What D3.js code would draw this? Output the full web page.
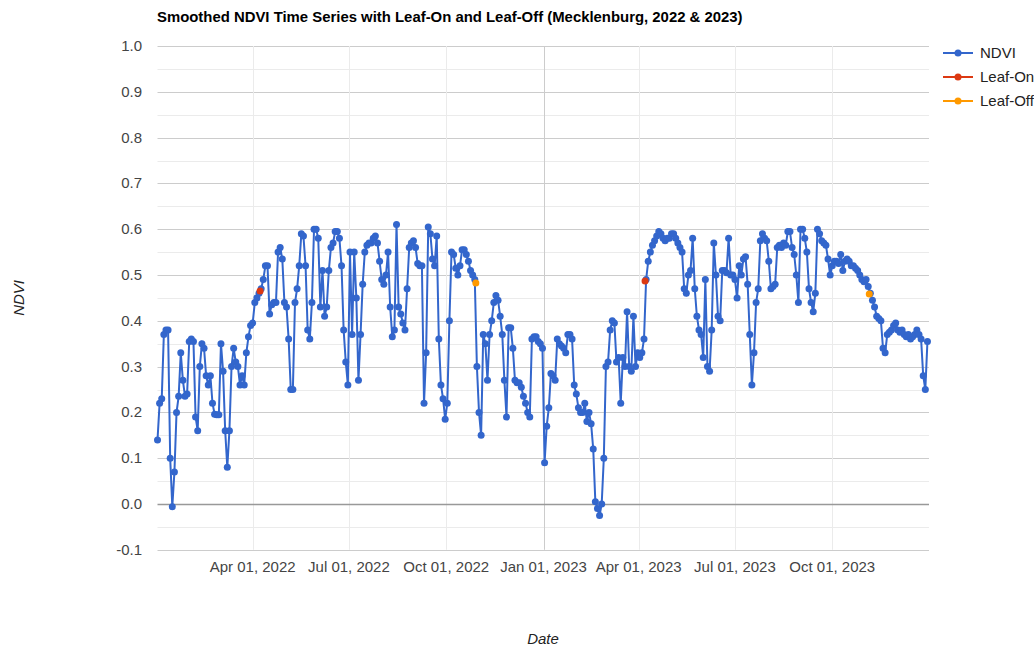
<!DOCTYPE html>
<html lang="en">
<head>
  <meta charset="UTF-8">
  <title>Smoothed NDVI Time Series</title>
  <script src="https://d3js.org/d3.v7.min.js"></script>
  <style>
    body { margin: 0; background: #fff; }
    svg text { font-family: Arial, "Liberation Sans", sans-serif; }
    .tick-label { font-size: 15px; fill: #444; }
    .axis-title { font-size: 15px; font-style: italic; fill: #222; }
    .legend-label { font-size: 15px; fill: #222; }
  </style>
</head>
<body>
  <div id="chart"></div>

  <script>
    // NDVI values, one every 2 days
    const stepDays = 2;
    const start2022 = "2022-01-01";
    const ndvi2022 = [
      0.14, 0.22, 0.23, 0.37, 0.38, 0.38, 0.10, -0.006, 0.07, 0.20,
      0.235, 0.33, 0.27, 0.235, 0.24, 0.355, 0.36, 0.355, 0.19, 0.16,
      0.30, 0.35, 0.34, 0.28, 0.26, 0.28, 0.22, 0.196, 0.195, 0.195,
      0.35, 0.29, 0.16, 0.08, 0.16, 0.30, 0.34, 0.31, 0.30, 0.26,
      0.28, 0.26, 0.33, 0.365, 0.39, 0.395, 0.44, 0.45, 0.46, 0.47,
      0.49, 0.52, 0.52, 0.415, 0.435, 0.44, 0.44, 0.55, 0.56, 0.535,
      0.44, 0.43, 0.36, 0.25, 0.25, 0.44, 0.47, 0.52, 0.59, 0.585,
      0.52, 0.38, 0.36, 0.44, 0.60, 0.60, 0.58, 0.43, 0.51, 0.41,
      0.43, 0.51, 0.56, 0.57, 0.595, 0.595, 0.58, 0.52, 0.38, 0.31,
      0.26, 0.55, 0.37, 0.55, 0.45, 0.27, 0.37, 0.48, 0.55, 0.565,
      0.57, 0.57, 0.58, 0.585, 0.57, 0.53, 0.49, 0.48, 0.50, 0.55,
      0.43, 0.365, 0.38, 0.61, 0.43, 0.415, 0.395, 0.38, 0.47, 0.56,
      0.57, 0.575, 0.56, 0.525, 0.52, 0.52, 0.22, 0.33, 0.605, 0.59,
      0.535, 0.52, 0.585, 0.36, 0.26, 0.23, 0.185, 0.22, 0.40, 0.55,
      0.545, 0.515, 0.50, 0.52, 0.555, 0.555, 0.545, 0.53, 0.51, 0.50,
      0.49, 0.30, 0.20, 0.15, 0.37, 0.35, 0.27, 0.37, 0.40, 0.44,
      0.455, 0.445, 0.41, 0.37, 0.27, 0.19, 0.385, 0.385, 0.34, 0.27,
      0.265, 0.265, 0.255, 0.235, 0.22, 0.20, 0.19, 0.36, 0.365, 0.365,
      0.355, 0.35, 0.34
    ];
    const start2023 = "2023-01-02";
    const ndvi2023 = [
      0.09, 0.17, 0.21, 0.285, 0.28, 0.27, 0.36, 0.35, 0.345, 0.34,
      0.33, 0.37, 0.37, 0.36, 0.26, 0.24, 0.21, 0.20, 0.20, 0.22,
      0.18, 0.20, 0.175, 0.12, 0.005, -0.01, -0.025, 0.0, 0.10, 0.30,
      0.31, 0.38, 0.40, 0.395, 0.31, 0.32, 0.22, 0.32, 0.30, 0.42,
      0.30, 0.29, 0.41, 0.30, 0.33, 0.32, 0.33, 0.36, 0.49, 0.53,
      0.55, 0.565, 0.575, 0.585, 0.595, 0.59, 0.58, 0.575, 0.58, 0.58,
      0.59, 0.59, 0.58, 0.57, 0.56, 0.55, 0.47, 0.46, 0.50, 0.51,
      0.58, 0.47, 0.41, 0.38, 0.37, 0.32, 0.49, 0.30, 0.29, 0.38,
      0.57, 0.50, 0.41, 0.40, 0.51, 0.51, 0.505, 0.58, 0.50, 0.50,
      0.49, 0.45, 0.52, 0.50, 0.535, 0.54, 0.48, 0.37, 0.26, 0.33,
      0.44, 0.47, 0.575, 0.59, 0.58, 0.575, 0.53, 0.47, 0.475, 0.48,
      0.56, 0.565, 0.56, 0.57, 0.565, 0.595, 0.595, 0.56, 0.545, 0.50,
      0.44, 0.60, 0.60, 0.58, 0.55, 0.47, 0.44, 0.42, 0.46, 0.60,
      0.59, 0.575, 0.57, 0.565, 0.535, 0.50, 0.52, 0.53, 0.53, 0.525,
      0.545, 0.51, 0.53, 0.535, 0.53, 0.52, 0.52, 0.515, 0.51, 0.50,
      0.49, 0.485, 0.49, 0.475, 0.46, 0.445, 0.43, 0.41, 0.405, 0.40,
      0.34, 0.33, 0.37, 0.375, 0.38, 0.39, 0.395, 0.38, 0.375, 0.38,
      0.37, 0.365, 0.37, 0.36, 0.365, 0.37, 0.38, 0.37, 0.36, 0.28,
      0.25, 0.355
    ];

    const leafOnDates = ["2022-04-08", "2023-04-07"];
    const leafOnValues = [0.465, 0.487];
    const leafOffDates = ["2022-10-29", "2023-11-05"];
    const leafOffValues = [0.4825, 0.4585];

    const xTickDates = ["2022-04-01", "2022-07-01", "2022-10-01", "2023-01-01",
                        "2023-04-01", "2023-07-01", "2023-10-01"];
    const yTicks = [-0.1, 0.0, 0.1, 0.2, 0.3, 0.4, 0.5, 0.6, 0.7, 0.8, 0.9, 1.0];

    const seriesNames = ["NDVI", "Leaf-On", "Leaf-Off"];
    const seriesColors = ["#3366cc", "#dc3912", "#ff9900"];

    const width = 1034, height = 648;
    const plot = { left: 157.5, right: 928.5, top: 46, bottom: 549.8 };
    const parse = d3.utcParse("%Y-%m-%d");

    function buildSeries(start, values) {
      const t0 = parse(start);
      return values.map((v, i) => ({ date: d3.utcDay.offset(t0, i * stepDays), value: v }));
    }

    const ndvi = buildSeries(start2022, ndvi2022).concat(buildSeries(start2023, ndvi2023));
    const leafOn = leafOnDates.map((d, i) => ({ date: parse(d), value: leafOnValues[i] }));
    const leafOff = leafOffDates.map((d, i) => ({ date: parse(d), value: leafOffValues[i] }));

    const x = d3.scaleUtc()
      .domain([parse("2022-01-01"), parse("2023-12-31")])
      .range([plot.left, plot.right]);
    const y = d3.scaleLinear()
      .domain([-0.1, 1.0])
      .range([plot.bottom, plot.top]);

    const svg = d3.select("#chart").append("svg")
      .attr("width", width)
      .attr("height", height);

    function drawGrid() {
      const g = svg.append("g");
      // minor horizontal lines between the majors
      const minor = d3.range(yTicks.length - 1).map(i => (yTicks[i] + yTicks[i + 1]) / 2);
      g.selectAll(".minor").data(minor).enter().append("line")
        .attr("x1", plot.left).attr("x2", plot.right + 0.5)
        .attr("y1", d => Math.round(y(d)) + 0.5).attr("y2", d => Math.round(y(d)) + 0.5)
        .attr("stroke", "#ebebeb");
      g.selectAll(".major").data(yTicks.filter(d => d !== 0)).enter().append("line")
        .attr("x1", plot.left).attr("x2", plot.right + 0.5)
        .attr("y1", d => Math.round(y(d)) + 0.5).attr("y2", d => Math.round(y(d)) + 0.5)
        .attr("stroke", "#cccccc");
      g.selectAll(".vgrid").data(xTickDates.map(parse)).enter().append("line")
        .attr("x1", d => Math.round(x(d)) + 0.5).attr("x2", d => Math.round(x(d)) + 0.5)
        .attr("y1", plot.top).attr("y2", plot.bottom)
        .attr("stroke", d => d.getUTCMonth() === 0 ? "#cccccc" : "#ebebeb");
      // zero baseline
      g.append("line")
        .attr("x1", plot.left).attr("x2", plot.right + 0.5)
        .attr("y1", Math.round(y(0)) + 0.5).attr("y2", Math.round(y(0)) + 0.5)
        .attr("stroke", "#999999")
        .attr("stroke-width", 1.6);
    }

    function drawAxes() {
      const yFmt = d3.format(".1f");
      svg.append("g").selectAll("text").data(yTicks).enter().append("text")
        .attr("class", "tick-label")
        .attr("x", 142).attr("y", d => y(d) + 5)
        .attr("text-anchor", "end")
        .text(d => yFmt(d).replace("\u2212", "-"));

      const fmt = d3.utcFormat("%b %d, %Y");
      svg.append("g").selectAll("text").data(xTickDates.map(parse)).enter().append("text")
        .attr("class", "tick-label")
        .attr("x", d => x(d)).attr("y", 571.5)
        .attr("text-anchor", "middle")
        .text(d => fmt(d));

      svg.append("text").attr("class", "axis-title")
        .attr("x", (plot.left + plot.right) / 2).attr("y", 643.5)
        .attr("text-anchor", "middle").text("Date");
      svg.append("text").attr("class", "axis-title")
        .attr("transform", `translate(23.5,${(plot.top + plot.bottom) / 2}) rotate(-90)`)
        .attr("text-anchor", "middle").text("NDVI");

      svg.append("text")
        .attr("x", 157).attr("y", 21.5)
        .style("font-size", "14.9px").style("font-weight", "bold").style("fill", "#000")
        .text("Smoothed NDVI Time Series with Leaf-On and Leaf-Off (Mecklenburg, 2022 & 2023)");
    }

    function drawSeries() {
      const line = d3.line().x(d => x(d.date)).y(d => y(d.value));
      svg.append("path").datum(ndvi)
        .attr("fill", "none")
        .attr("stroke", seriesColors[0])
        .attr("stroke-width", 2)
        .attr("d", line);
      svg.append("g").selectAll("circle").data(ndvi).enter().append("circle")
        .attr("cx", d => x(d.date)).attr("cy", d => y(d.value))
        .attr("r", 3.5).attr("fill", seriesColors[0]);

      [leafOn, leafOff].forEach((pts, k) => {
        svg.append("g").selectAll("circle").data(pts).enter().append("circle")
          .attr("cx", d => x(d.date)).attr("cy", d => y(d.value))
          .attr("r", 3.5).attr("fill", seriesColors[k + 1]);
      });
    }

    function drawLegend() {
      const g = svg.append("g").attr("transform", "translate(943,53)");
      seriesNames.forEach((name, i) => {
        const row = g.append("g").attr("transform", `translate(0,${i * 24})`);
        row.append("line").attr("x1", 0).attr("x2", 30).attr("y1", 0).attr("y2", 0)
          .attr("stroke", seriesColors[i]).attr("stroke-width", 2);
        row.append("circle").attr("cx", 15).attr("cy", 0).attr("r", 3.5)
          .attr("fill", seriesColors[i]);
        row.append("text").attr("class", "legend-label")
          .attr("x", 37).attr("y", 5).text(name);
      });
    }

    drawGrid();
    drawSeries();
    drawAxes();
    drawLegend();
  </script>
</body>
</html>
